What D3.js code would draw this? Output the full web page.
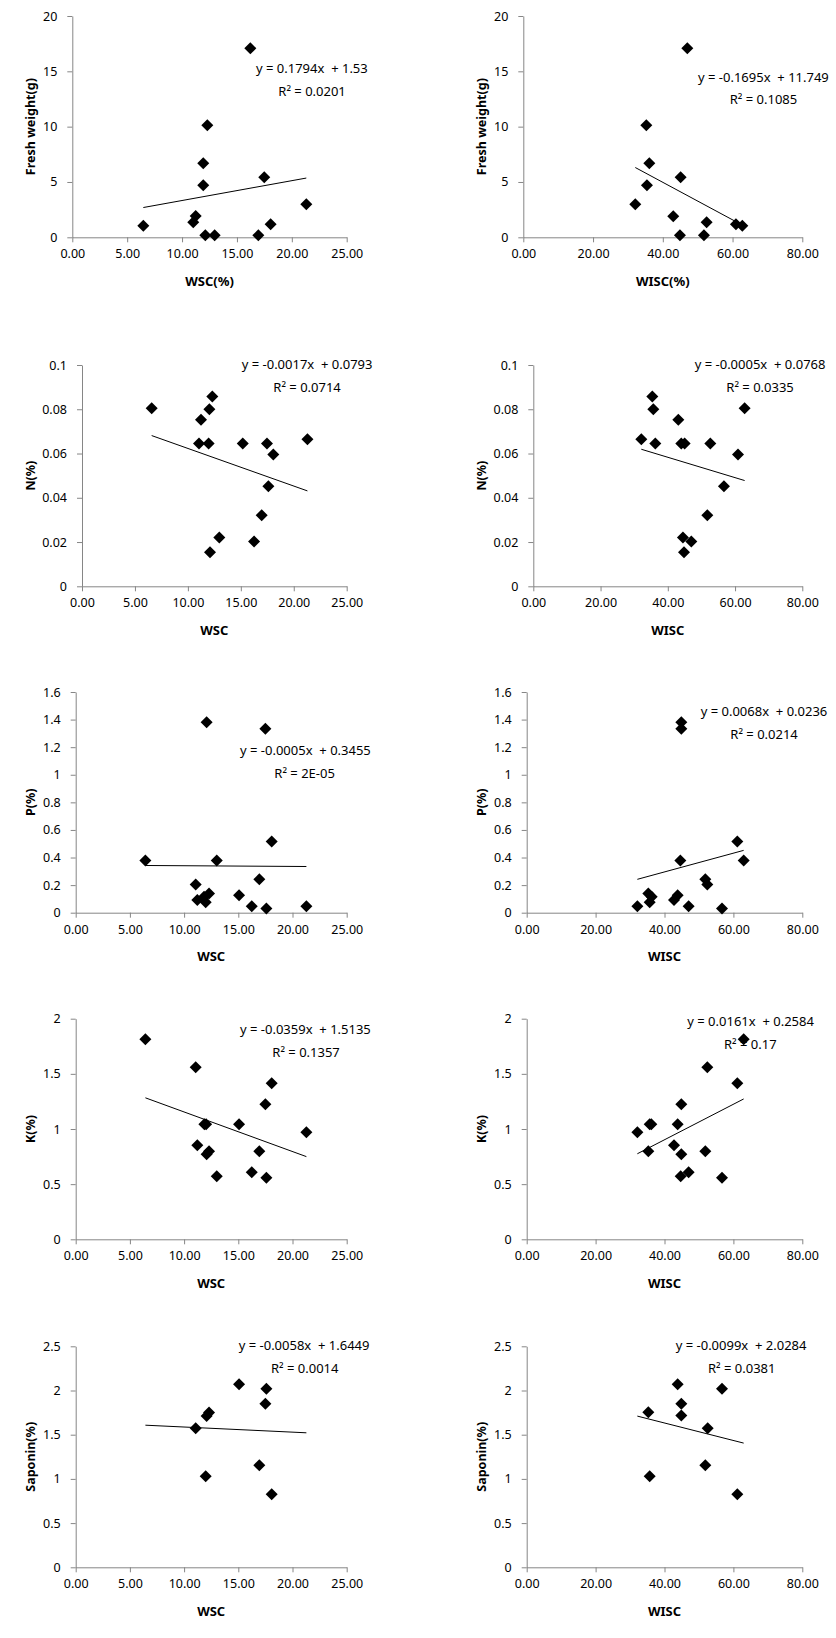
<!DOCTYPE html>
<html><head><meta charset="utf-8">
<script src="https://cdn.jsdelivr.net/npm/d3@7"></script>
<style>
html,body{margin:0;padding:0;background:#fff;}
svg text{font-family:"Noto Sans",sans-serif;fill:#000;}
</style></head>
<body>
<svg id="chart" width="836" height="1638"></svg>
<script>
// ---------- data ----------
const xTicksWSC = [0, 5, 10, 15, 20, 25];
const xTicksWISC = [0, 20, 40, 60, 80];
const yTicksFW = [0, 5, 10, 15, 20];
const yTicksN = [0, 0.02, 0.04, 0.06, 0.08, 0.1];
const yTicksP = [0, 0.2, 0.4, 0.6, 0.8, 1, 1.2, 1.4, 1.6];
const yTicksK = [0, 0.5, 1, 1.5, 2];
const yTicksSap = [0, 0.5, 1, 1.5, 2, 2.5];

// Fresh weight vs WSC
const fwWscX = [6.47, 11.02, 11.24, 11.93, 11.93, 12.30, 12.12, 12.97, 16.22, 16.95, 17.49, 18.07, 21.32];
const fwWscY = [1.05, 1.36, 1.93, 4.70, 6.69, 10.12, 0.18, 0.18, 17.08, 0.18, 5.42, 1.17, 2.98];
// Fresh weight vs WISC
const fwWiscX = [32.11, 35.27, 35.46, 36.13, 43.0, 44.92, 45.11, 47.03, 51.8, 52.57, 60.98, 62.8];
const fwWiscY = [2.98, 10.12, 4.70, 6.69, 1.90, 0.18, 5.42, 17.08, 0.18, 1.36, 1.17, 1.05];
// N vs WSC
const nWscX = [6.58, 11.24, 11.05, 11.96, 12.03, 12.31, 12.09, 12.97, 15.18, 16.25, 16.97, 17.47, 17.60, 18.07, 21.29];
const nWscY = [0.0804, 0.0753, 0.0645, 0.0645, 0.0800, 0.0858, 0.0154, 0.0221, 0.0645, 0.0203, 0.0321, 0.0645, 0.0452, 0.0596, 0.0664];
// N vs WISC
const nWiscX = [32.12, 35.39, 35.69, 36.28, 43.12, 44.01, 45.01, 44.51, 44.81, 47.0, 51.75, 52.64, 56.7, 60.87, 62.85];
const nWiscY = [0.0664, 0.0858, 0.0800, 0.0645, 0.0753, 0.0645, 0.0645, 0.0221, 0.0154, 0.0203, 0.0321, 0.0645, 0.0452, 0.0596, 0.0804];
// P vs WSC
const pWscX = [6.43, 11.07, 11.22, 11.84, 11.99, 12.30, 12.08, 13.01, 15.07, 16.24, 16.94, 17.50, 17.59, 18.08, 21.28];
const pWscY = [0.379, 0.205, 0.092, 0.116, 0.075, 0.140, 1.38, 0.379, 0.126, 0.046, 0.242, 1.334, 0.031, 0.517, 0.046];
// P vs WISC
const pWiscX = [32.12, 35.31, 35.70, 36.28, 42.76, 43.82, 44.88, 44.88, 44.6, 47.01, 51.85, 52.43, 56.69, 61.14, 62.98];
const pWiscY = [0.046, 0.140, 0.075, 0.116, 0.092, 0.126, 1.38, 1.334, 0.379, 0.046, 0.242, 0.205, 0.031, 0.517, 0.379];
// K vs WSC
const kWscX = [6.43, 11.07, 11.22, 11.87, 12.03, 12.08, 12.30, 13.01, 15.07, 16.24, 16.94, 17.50, 17.59, 18.08, 21.28];
const kWscY = [1.813, 1.559, 0.852, 1.042, 1.042, 0.770, 0.798, 0.571, 1.042, 0.607, 0.798, 1.224, 0.559, 1.414, 0.970];
// K vs WISC
const kWiscX = [32.12, 35.31, 35.70, 36.18, 42.76, 43.82, 44.88, 44.7, 44.88, 47.01, 51.85, 52.43, 56.69, 61.14, 62.98];
const kWiscY = [0.970, 0.798, 1.042, 1.042, 0.852, 1.042, 1.224, 0.571, 0.770, 0.607, 0.798, 1.559, 0.559, 1.414, 1.813];
// Saponin vs WSC
const sWscX = [11.07, 11.99, 12.08, 12.30, 15.07, 16.94, 17.50, 17.59, 18.08];
const sWscY = [1.572, 1.029, 1.712, 1.750, 2.070, 1.154, 1.851, 2.021, 0.826];
// Saponin vs WISC
const sWiscX = [35.31, 35.70, 43.82, 44.88, 44.88, 51.85, 52.53, 56.69, 61.14];
const sWiscY = [1.753, 1.029, 2.070, 1.851, 1.716, 1.154, 1.572, 2.021, 0.826];

// trendlines, spanning the full x range of each series
const trendSlope = [0.1794, -0.1695, -0.0017, -0.00046, -0.0005, 0.0068, -0.0359, 0.0161, -0.0058, -0.0099];
const trendIntercept = [1.53, 11.749, 0.0793, 0.0767, 0.3455, 0.0236, 1.5135, 0.2584, 1.6449, 2.0284];

const equations = [
  "y = 0.1794x  + 1.53", "y = -0.1695x  + 11.749",
  "y = -0.0017x  + 0.0793", "y = -0.0005x  + 0.0768",
  "y = -0.0005x  + 0.3455", "y = 0.0068x  + 0.0236",
  "y = -0.0359x  + 1.5135", "y = 0.0161x  + 0.2584",
  "y = -0.0058x  + 1.6449", "y = -0.0099x  + 2.0284"
];
const rSquared = ["R² = 0.0201", "R² = 0.1085", "R² = 0.0714", "R² = 0.0335", "R² = 2E-05",
  "R² = 0.0214", "R² = 0.1357", "R² = 0.17", "R² = 0.0014", "R² = 0.0381"];
const xTitles = ["WSC(%)", "WISC(%)", "WSC", "WISC", "WSC", "WISC", "WSC", "WISC", "WSC", "WISC"];
const yTitles = ["Fresh weight(g)", "Fresh weight(g)", "N(%)", "N(%)", "P(%)", "P(%)", "K(%)", "K(%)", "Saponin(%)", "Saponin(%)"];

// ---------- layout ----------
const panels = [
  {x: fwWscX, y: fwWscY, span: fwWscX, xt: xTicksWSC, yt: yTicksFW, l: 72.3, r: 346.7, t: 16, b: 237.3, ex: 256, ey: 73.3, rx: 278.3, ry: 96},
  {x: fwWiscX, y: fwWiscY, span: fwWiscX, xt: xTicksWISC, yt: yTicksFW, l: 523.3, r: 802.3, t: 16, b: 237.3, ex: 698, ey: 81.7, rx: 729.7, ry: 104.3},
  {x: nWscX, y: nWscY, span: nWscX, xt: xTicksWSC, yt: yTicksN, l: 82, r: 346.7, t: 365, b: 586.3, ex: 241.7, ey: 369, rx: 273.3, ry: 392},
  {x: nWiscX, y: nWiscY, span: nWiscX, xt: xTicksWISC, yt: yTicksN, l: 533.3, r: 802.3, t: 365, b: 586.3, ex: 694.7, ey: 369, rx: 726.3, ry: 392},
  {x: pWscX, y: pWscY, span: pWscX, xt: xTicksWSC, yt: yTicksP, l: 75.7, r: 346.7, t: 692, b: 912.7, ex: 240, ey: 755.3, rx: 274.3, ry: 778},
  {x: pWiscX, y: pWiscY, span: pWiscX, xt: xTicksWISC, yt: yTicksP, l: 526.7, r: 802.3, t: 692, b: 912.7, ex: 700.7, ey: 715.7, rx: 730.3, ry: 739},
  {x: kWscX, y: kWscY, span: kWscX, xt: xTicksWSC, yt: yTicksK, l: 75.7, r: 346.7, t: 1018.7, b: 1239.3, ex: 240, ey: 1034, rx: 272.3, ry: 1056.7},
  {x: kWiscX, y: kWiscY, span: kWiscX, xt: xTicksWISC, yt: yTicksK, l: 526.7, r: 802.3, t: 1018.7, b: 1239.3, ex: 687.3, ey: 1025.7, rx: 724, ry: 1048.7},
  {x: sWscX, y: sWscY, span: kWscX, xt: xTicksWSC, yt: yTicksSap, l: 75.7, r: 346.7, t: 1346.3, b: 1567.3, ex: 238.7, ey: 1350, rx: 271, ry: 1372.7},
  {x: sWiscX, y: sWiscY, span: kWiscX, xt: xTicksWISC, yt: yTicksSap, l: 526.7, r: 802.3, t: 1346.3, b: 1567.3, ex: 675.7, ey: 1350, rx: 708, ry: 1372.7}
];

const svg = d3.select("#chart");
const diamond = "M0,-6L6,0L0,6L-6,0Z";

panels.forEach((p, i) => {
  const colLeft = i % 2 === 0;
  const xs = d3.scaleLinear().domain(d3.extent(p.xt)).range([p.l, p.r]);
  const ys = d3.scaleLinear().domain(d3.extent(p.yt)).range([p.b, p.t]);
  const g = svg.append("g");

  // axes
  const ax = g.append("g").attr("transform", `translate(0,${p.b})`)
    .call(d3.axisBottom(xs).tickValues(p.xt).tickFormat(d3.format(".2f")).tickSizeInner(5).tickSizeOuter(0).tickPadding(7));
  const ay = g.append("g").attr("transform", `translate(${p.l},0)`)
    .call(d3.axisLeft(ys).tickValues(p.yt).tickFormat(d => String(+d.toFixed(3))).tickSizeInner(5).tickSizeOuter(0).tickPadding(10));
  [ax, ay].forEach(a => {
    a.select(".domain").attr("stroke", "#868686").attr("stroke-width", 1);
    a.selectAll(".tick line").attr("stroke", "#868686");
    a.selectAll(".tick text").attr("font-size", 12.5).attr("fill", "#000").attr("font-family", '"Noto Sans",sans-serif');
  });

  // titles
  g.append("text").attr("x", (p.l + p.r) / 2).attr("y", p.b + 43.5)
    .attr("text-anchor", "middle").attr("dominant-baseline", "central")
    .attr("font-size", 13).attr("font-weight", "bold").text(xTitles[i]);
  const yc = (p.t + p.b) / 2, xc = colLeft ? 30 : 481.3;
  g.append("text").attr("transform", `translate(${xc},${yc}) rotate(-90)`)
    .attr("text-anchor", "middle").attr("dominant-baseline", "central")
    .attr("font-size", 12.5).attr("font-weight", "bold").text(yTitles[i]);

  // equation labels
  g.append("text").attr("x", p.ex).attr("y", p.ey).attr("font-size", 13)
    .style("white-space", "pre").text(equations[i]);
  g.append("text").attr("x", p.rx).attr("y", p.ry).attr("font-size", 13)
    .style("white-space", "pre").text(rSquared[i]);

  // trendline
  const m = trendSlope[i], c = trendIntercept[i];
  const [x0, x1] = d3.extent(p.span);
  g.append("line").attr("x1", xs(x0)).attr("y1", ys(m*x0 + c))
    .attr("x2", xs(x1)).attr("y2", ys(m*x1 + c))
    .attr("stroke", "#000").attr("stroke-width", 1);

  // points
  g.selectAll("path.pt").data(p.x.map((v, k) => [v, p.y[k]])).join("path")
    .attr("class", "pt").attr("d", diamond)
    .attr("transform", d => `translate(${xs(d[0])},${ys(d[1])})`)
    .attr("fill", "#000");
});
</script>
</body></html>
